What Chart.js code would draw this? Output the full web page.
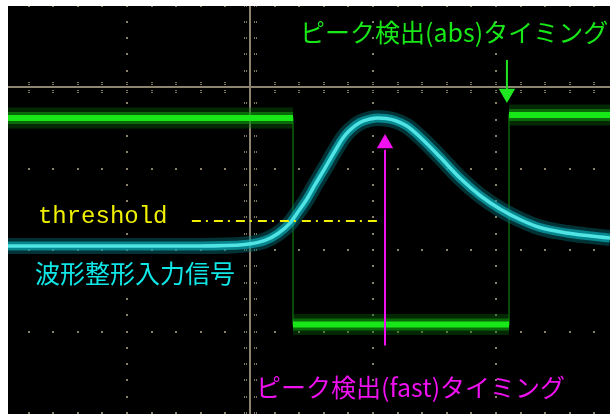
<!DOCTYPE html>
<html>
<head>
<meta charset="utf-8">
<script src="https://cdn.jsdelivr.net/npm/chart.js"></script>
<style>
body { margin: 0; background: #fff; }
</style>
</head>
<body>
<canvas id="mycanvas" width="610" height="415"></canvas>
<script>
// all values in scope divisions (0 = centre graticule line)
var cyanX = [-1.967, -0.407, -0.041, 0.122, 0.228, 0.325, 0.390, 0.463, 0.528, 0.610, 0.691, 0.756, 0.813, 0.894, 0.976, 1.041, 1.106, 1.179, 1.276, 1.382, 1.545, 1.707, 1.870, 2.033, 2.195, 2.358, 2.577, 2.927];
var cyanY = [-1.951, -1.951, -1.933, -1.883, -1.798, -1.669, -1.534, -1.374, -1.202, -0.994, -0.785, -0.626, -0.528, -0.436, -0.393, -0.380, -0.387, -0.411, -0.479, -0.613, -0.859, -1.117, -1.331, -1.497, -1.626, -1.724, -1.791, -1.853];

var greenX = [-1.967, 0.350, 0.350, 2.106, 2.106, 2.927];
var greenY = [-0.380, -0.380, -2.914, -2.914, -0.344, -0.344];

var thresholdX = [-0.472, 1.073];
var thresholdY = [-1.644, -1.644];

var fastX = 1.098;
var fastY = [-3.171, -0.77];
var fastHeadY = -0.693;

var absX = 2.089;
var absY = [0.331, -0.037];
var absHeadY = -0.080;

var gridX = [-2, -1, 0, 1, 2, 3];
var gridY = [1, 0, -1, -2, -3, -4];

var labelTexts = ['threshold', '波形整形入力信号', 'ピーク検出(abs)タイミング', 'ピーク検出(fast)タイミング'];

function pts(xs, ys) {
	var out = [];
	for (var i = 0; i < xs.length; i++) out.push({x: xs[i], y: ys[i]});
	return out;
}

function band(data, color, width, order) {
	return {
		data: data, showLine: true, pointRadius: 0, borderColor: color,
		borderWidth: width, order: order, cubicInterpolationMode: 'monotone'
	};
}

var cyanPts = pts(cyanX, cyanY);
var greenPts = pts(greenX, greenY);
var greenSegs = [greenPts.slice(0, 2), greenPts.slice(2, 4), greenPts.slice(4, 6)];

var datasets = [];
// thin step edges
datasets.push({data: greenPts, showLine: true, pointRadius: 0, borderColor: '#0d620d', borderWidth: 1.5, order: 20});
greenSegs.forEach(function(s) {
	datasets.push(band(s, 'rgba(10,100,10,0.4)', 21, 19));
	datasets.push(band(s, 'rgba(15,150,15,0.6)', 12, 18));
	datasets.push(band(s, '#18e818', 6, 17));
});
datasets.push(band(cyanPts, 'rgba(0,110,120,0.45)', 16, 16));
datasets.push(band(cyanPts, 'rgba(10,170,180,0.7)', 9, 15));
datasets.push(band(cyanPts, '#50e4e4', 3.5, 14));
datasets.push({data: pts(thresholdX, thresholdY), showLine: true, pointRadius: 0, borderColor: '#f0f000',
	borderWidth: 2, borderDash: [9, 5, 2, 6], order: 10});
// arrows
datasets.push({data: pts([fastX, fastX], fastY), showLine: true, pointRadius: 0, borderColor: '#f010f0', borderWidth: 2, order: 3});
datasets.push({data: [{x: fastX, y: fastHeadY}], pointStyle: 'triangle', pointRadius: 9.5, pointRotation: 0,
	backgroundColor: '#f010f0', borderWidth: 0, order: 2});
datasets.push({data: pts([absX, absX], absY), showLine: true, pointRadius: 0, borderColor: '#20e820', borderWidth: 2, order: 3});
datasets.push({data: [{x: absX, y: absHeadY}], pointStyle: 'triangle', pointRadius: 9.5, pointRotation: 180,
	backgroundColor: '#20e820', borderWidth: 0, order: 2});

var graticule = {
	id: 'graticule',
	beforeDatasetsDraw: function(chart) {
		var ctx = chart.ctx, a = chart.chartArea, sx = chart.scales.x, sy = chart.scales.y;
		ctx.save();
		ctx.fillStyle = '#000';
		ctx.fillRect(a.left, a.top, a.right - a.left, a.bottom - a.top);
		ctx.beginPath();
		ctx.rect(a.left, a.top, a.right - a.left, a.bottom - a.top);
		ctx.clip();
		var k, px, py;
		ctx.fillStyle = '#8a8268';
		// dotted lines
		gridX.forEach(function(v) {
			if (v === 0) return;
			px = Math.round(sx.getPixelForValue(v));
			for (k = -21; k <= 6; k++) {
				py = Math.round(sy.getPixelForValue(k / 5));
				ctx.fillRect(px - 1, py - 1, 2, 2);
			}
		});
		gridY.forEach(function(v) {
			if (v === 0) return;
			py = Math.round(sy.getPixelForValue(v));
			for (k = -11; k <= 16; k++) {
				px = Math.round(sx.getPixelForValue(k / 5));
				ctx.fillRect(px - 1, py - 1, 2, 2);
			}
		});
		// centre lines with ticks
		var cx = Math.round(sx.getPixelForValue(0)), cy = Math.round(sy.getPixelForValue(0));
		ctx.fillStyle = '#7e7660';
		for (k = -11; k <= 16; k++) {
			px = Math.round(sx.getPixelForValue(k / 5));
			ctx.fillRect(px - 1, cy - 5, 2, 1);
			ctx.fillRect(px - 1, cy - 3, 2, 1);
			ctx.fillRect(px - 1, cy + 3, 2, 1);
			ctx.fillRect(px - 1, cy + 5, 2, 1);
		}
		for (k = -21; k <= 6; k++) {
			py = Math.round(sy.getPixelForValue(k / 5));
			ctx.fillRect(cx - 6, py - 1, 1, 2);
			ctx.fillRect(cx - 4, py - 1, 1, 2);
			ctx.fillRect(cx + 4, py - 1, 1, 2);
			ctx.fillRect(cx + 6, py - 1, 1, 2);
		}
		ctx.fillStyle = '#8c8470';
		ctx.fillRect(cx - 1, a.top, 2, a.bottom - a.top);
		ctx.fillRect(a.left, cy - 1, a.right - a.left, 2);
		ctx.restore();
	}
};

var labelPos = [
	{x: -1.724, y: -1.669, color: '#f0f000', font: '24px "Liberation Mono"', base: 'alphabetic'},
	{x: -1.748, y: -2.294, color: '#10e6e6', font: '25px "Noto Sans CJK JP"', base: 'middle'},
	{x: 0.407, y: 0.669, color: '#18e818', font: '25px "Noto Sans CJK JP"', base: 'middle'},
	{x: 0.049, y: -3.687, color: '#f010f0', font: '25px "Noto Sans CJK JP"', base: 'middle'}
];

var texts = {
	id: 'texts',
	afterDatasetsDraw: function(chart) {
		var ctx = chart.ctx, sx = chart.scales.x, sy = chart.scales.y;
		ctx.save();
		labelTexts.forEach(function(t, i) {
			var p = labelPos[i];
			ctx.font = p.font;
			ctx.fillStyle = p.color;
			ctx.textBaseline = p.base;
			ctx.textAlign = 'left';
			ctx.fillText(t, sx.getPixelForValue(p.x), sy.getPixelForValue(p.y));
		});
		ctx.restore();
	}
};

var ctx = document.getElementById('mycanvas');
var chart = new Chart(ctx, {
	type: 'scatter',
	data: {datasets: datasets},
	options: {
		responsive: false,
		animation: false,
		layout: {autoPadding: false, padding: {left: 8, top: 6, right: 0, bottom: 1}},
		plugins: {legend: {display: false}, tooltip: {enabled: false}},
		scales: {
			x: {type: 'linear', min: -1.967, max: 2.927, display: false},
			y: {type: 'linear', min: -4.012, max: 0.994, display: false}
		}
	},
	plugins: [graticule, texts]
});
</script>
</body>
</html>
